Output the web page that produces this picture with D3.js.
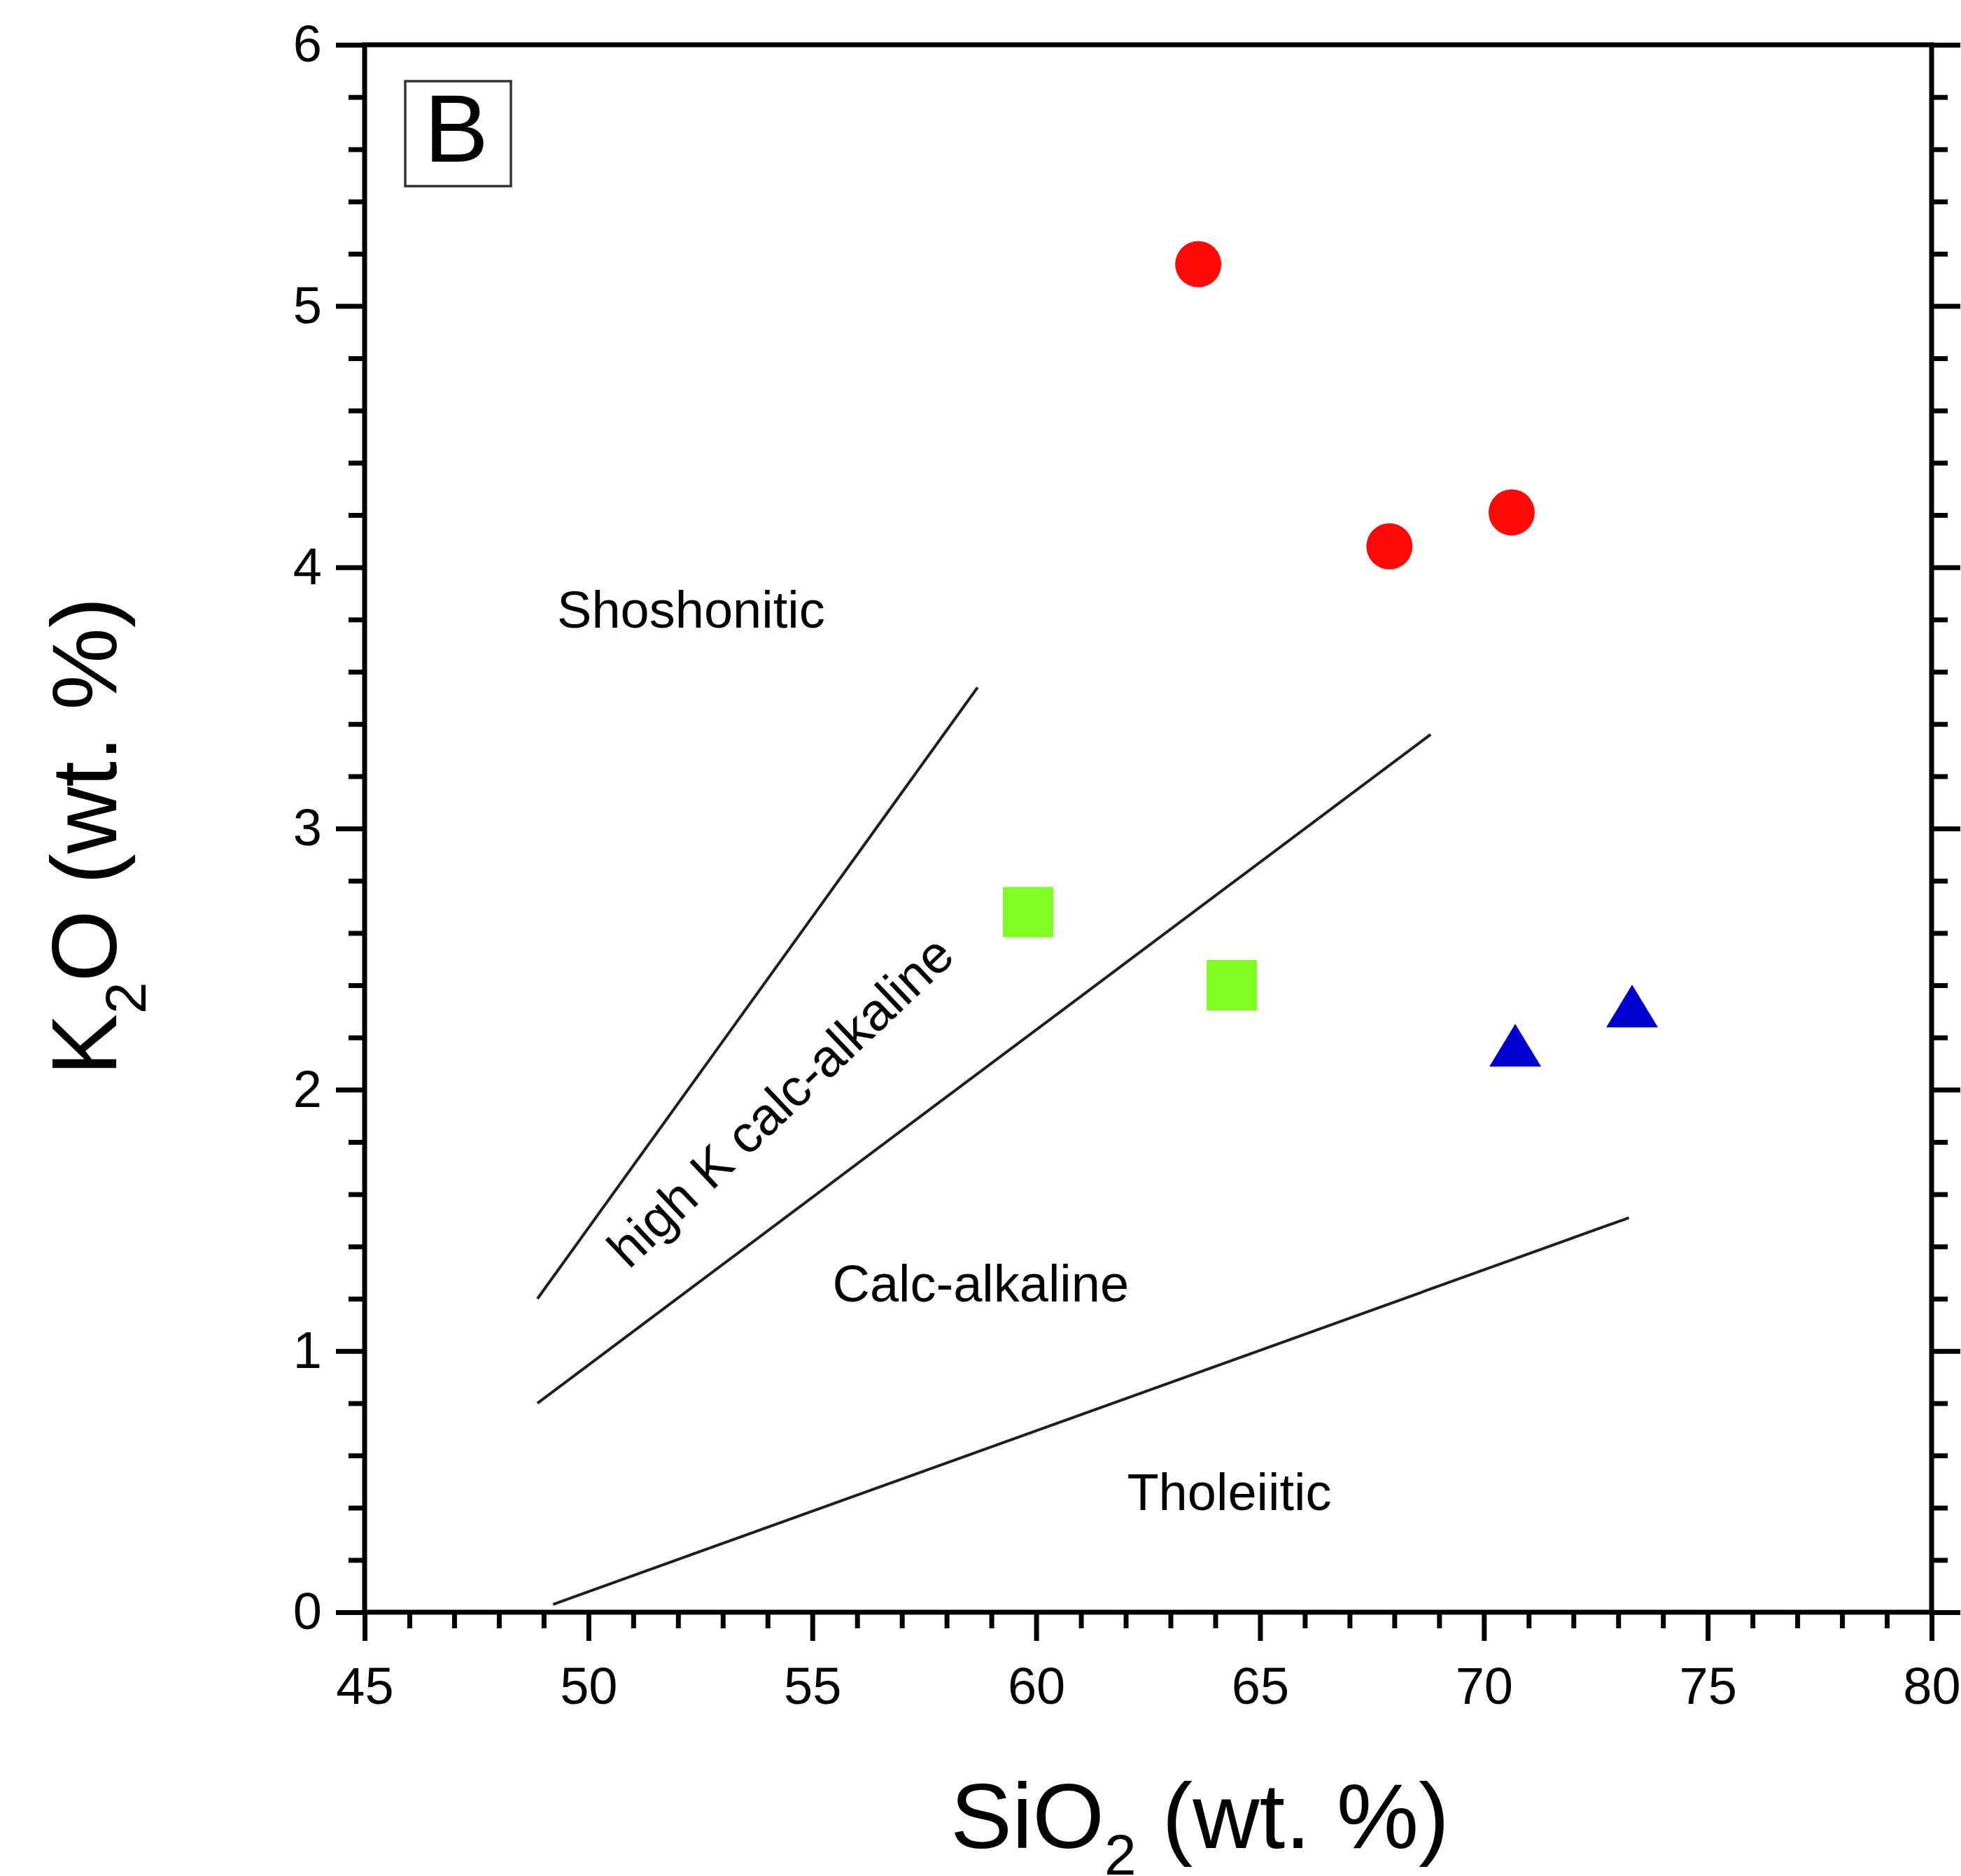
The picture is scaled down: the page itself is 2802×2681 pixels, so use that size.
<!DOCTYPE html>
<html>
<head>
<meta charset="utf-8">
<script src="https://cdn.jsdelivr.net/npm/d3@7"></script>
<style>
  html, body { margin: 0; padding: 0; background: #ffffff; }
  svg { display: block; }
  text { font-family: "Liberation Sans", Arial, Helvetica, sans-serif; fill: #000; }
</style>
</head>
<body>
<script>
// K2O vs SiO2 classification diagram (panel B)

// Sample analyses, one pair of arrays per symbol group (wt. %)
const circleSiO2 = [63.62, 67.89, 70.62];
const circleK2O  = [5.16, 4.08, 4.21];
const squareSiO2 = [59.82, 64.37];
const squareK2O  = [2.68, 2.40];
const triangleSiO2 = [70.70, 73.31];
const triangleK2O  = [2.17, 2.32];

// Series boundaries: [start, end] for each line
const boundarySiO2 = [[48.86, 58.69], [48.86, 68.81], [49.21, 73.24]];
const boundaryK2O  = [[1.20, 3.54], [0.80, 3.36], [0.03, 1.51]];

// Field names
const fieldNames = ["Shoshonitic", "high K calc-alkaline", "Calc-alkaline", "Tholeiitic"];

// Axis ticks
const xMajorTicks = [45, 50, 55, 60, 65, 70, 75, 80];
const yMajorTicks = [0, 1, 2, 3, 4, 5, 6];
const panelLetter = "B";

const W = 2802, H = 2681;
const plot = { left: 521, right: 2760, top: 64, bottom: 2304 };

const svg = d3.select("body").append("svg")
  .attr("width", W).attr("height", H);

const x = d3.scaleLinear().domain([45, 80]).range([plot.left, plot.right]);
const y = d3.scaleLinear().domain([0, 6]).range([plot.bottom, plot.top]);

const xMinor = d3.range(45, 80.001, 1).filter(v => !xMajorTicks.includes(v));
const yMinor = d3.range(0, 30.001, 1).map(v => v / 5).filter(v => !yMajorTicks.some(t => Math.abs(t - v) < 1e-9));

const AXW = 7, MAJ = 41, MIN = 23;

function styleAxis(g) {
  g.select(".domain").remove();
  g.selectAll(".tick line").attr("stroke", "#000").attr("stroke-width", AXW);
  g.selectAll(".tick text").attr("font-size", 74).attr("fill", "#000")
    .attr("font-family", "'Liberation Sans', Arial, sans-serif");
}

// Left axis
svg.append("g").attr("transform", `translate(${plot.left},0)`)
  .call(d3.axisLeft(y).tickValues(yMajorTicks).tickSize(MAJ).tickPadding(20).tickFormat(d3.format("d")))
  .call(styleAxis);
svg.append("g").attr("transform", `translate(${plot.left},0)`)
  .call(d3.axisLeft(y).tickValues(yMinor).tickSize(MIN).tickFormat(""))
  .call(styleAxis);

// Right axis (ticks only)
svg.append("g").attr("transform", `translate(${plot.right},0)`)
  .call(d3.axisRight(y).tickValues(yMajorTicks).tickSize(MAJ).tickFormat(""))
  .call(styleAxis);
svg.append("g").attr("transform", `translate(${plot.right},0)`)
  .call(d3.axisRight(y).tickValues(yMinor).tickSize(MIN).tickFormat(""))
  .call(styleAxis);

// Bottom axis
svg.append("g").attr("transform", `translate(0,${plot.bottom})`)
  .call(d3.axisBottom(x).tickValues(xMajorTicks).tickSize(MAJ).tickPadding(37).tickFormat(d3.format("d")))
  .call(styleAxis);
svg.append("g").attr("transform", `translate(0,${plot.bottom})`)
  .call(d3.axisBottom(x).tickValues(xMinor).tickSize(MIN).tickFormat(""))
  .call(styleAxis);

// Frame
svg.append("rect")
  .attr("x", plot.left).attr("y", plot.top)
  .attr("width", plot.right - plot.left).attr("height", plot.bottom - plot.top)
  .attr("fill", "none").attr("stroke", "#000").attr("stroke-width", AXW)
  .attr("stroke-linecap", "square");

// Boundary lines
const line = d3.line().x(d => x(d[0])).y(d => y(d[1]));
svg.append("g").selectAll("path")
  .data(boundarySiO2.map((xs, i) => xs.map((v, j) => [v, boundaryK2O[i][j]])))
  .join("path")
  .attr("d", line)
  .attr("fill", "none").attr("stroke", "#1e1e1e").attr("stroke-width", 4);

// Field labels
const labelG = svg.append("g").attr("font-size", 74);
labelG.append("text").attr("x", x(49.3)).attr("y", y(3.77)).text(fieldNames[0]);
labelG.append("text")
  .attr("transform", `translate(${x(50.9)},${y(1.31)}) rotate(-43.5)`)
  .attr("font-size", 75)
  .text(fieldNames[1]);
labelG.append("text").attr("x", x(55.45)).attr("y", y(1.19)).text(fieldNames[2]);
labelG.append("text").attr("x", x(62.03)).attr("y", y(0.39)).text(fieldNames[3]);

// Symbols
svg.append("g").selectAll("circle")
  .data(d3.zip(circleSiO2, circleK2O)).join("circle")
  .attr("cx", d => x(d[0])).attr("cy", d => y(d[1])).attr("r", 33)
  .attr("fill", "#ff0808");

const SQ = 72;
svg.append("g").selectAll("rect")
  .data(d3.zip(squareSiO2, squareK2O)).join("rect")
  .attr("x", d => x(d[0]) - SQ / 2).attr("y", d => y(d[1]) - SQ / 2)
  .attr("width", SQ).attr("height", SQ)
  .attr("fill", "#80ff26");

const TW = 74, TH = 61;
svg.append("g").selectAll("path")
  .data(d3.zip(triangleSiO2, triangleK2O)).join("path")
  .attr("d", d => {
    const cx = x(d[0]), cy = y(d[1]);
    return `M${cx},${cy - TH / 2}L${cx + TW / 2},${cy + TH / 2}L${cx - TW / 2},${cy + TH / 2}Z`;
  })
  .attr("fill", "#0000cc");

// Panel letter
svg.append("rect").attr("x", 579).attr("y", 116).attr("width", 151).attr("height", 150)
  .attr("fill", "none").attr("stroke", "#333").attr("stroke-width", 3.5);
svg.append("text").attr("x", 652).attr("y", 231).attr("text-anchor", "middle")
  .attr("font-size", 138).text(panelLetter);

// Axis titles
const xt = svg.append("text").attr("x", 1358).attr("y", 2641).attr("font-size", 132);
xt.append("tspan").text("SiO");
xt.append("tspan").attr("font-size", 82).attr("dy", 38).text("2");
xt.append("tspan").attr("dy", -38).text(" (wt. %)");

const yt = svg.append("text").attr("transform", "translate(166,1537) rotate(-90)").attr("font-size", 132);
yt.append("tspan").text("K");
yt.append("tspan").attr("font-size", 82).attr("dy", 42).text("2");
yt.append("tspan").attr("dy", -42).text("O (wt. %)");
</script>
</body>
</html>
